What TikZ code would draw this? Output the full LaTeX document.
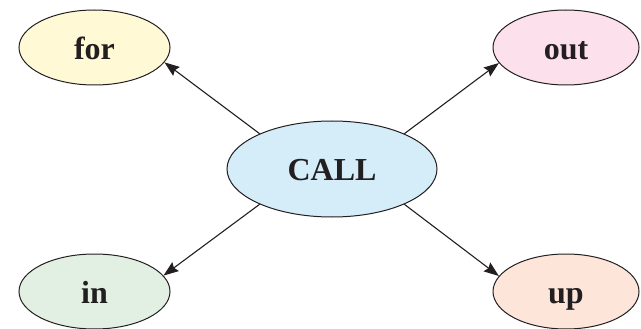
\documentclass[tikz,border=0pt]{standalone}
\usepackage{fontspec}
\setmainfont{Liberation Serif}
\usetikzlibrary{shapes.geometric,arrows.meta}
\definecolor{ink}{HTML}{231F20}
\definecolor{fyellow}{HTML}{FFF9D6}
\definecolor{fpink}{HTML}{FCE0EC}
\definecolor{fgreen}{HTML}{E2F0E4}
\definecolor{fpeach}{HTML}{FDE5DA}
\definecolor{fblue}{HTML}{D4EDF9}
\tikzset{
  bubble/.style={ellipse, draw=ink, line width=1pt, inner sep=0pt,
    text=ink, font=\fontsize{32}{36}\selectfont\bfseries,
    text height=25.5pt, text depth=1.5pt},
  arr/.style={draw=ink, line width=1.1pt, -{Stealth[length=15pt,width=11pt,inset=2pt]}}
}
\begin{document}
\begin{tikzpicture}[x=1pt,y=-1pt]
  \useasboundingbox (0,0) rectangle (641,329);
  \node[bubble, fill=fblue, minimum width=210pt, minimum height=96pt] (call) at (332,169) {CALL};
  \node[bubble, fill=fyellow, minimum width=151pt, minimum height=75pt] (for) at (94.5,47.5) {for};
  \node[bubble, fill=fpink, minimum width=146pt, minimum height=75pt] (out) at (566,47.5) {out};
  \node[bubble, fill=fgreen, minimum width=151pt, minimum height=75pt] (in) at (94.5,291.5) {in};
  \node[bubble, fill=fpeach, minimum width=146pt, minimum height=75pt] (up) at (566,291.5) {up};
  \draw[arr] (call.154) -- (for.-12);
  \draw[arr] (call.26) -- (out.-167);
  \draw[arr] (call.-154) -- (in.13);
  \draw[arr] (call.-26) -- (up.167);
\end{tikzpicture}
\end{document}
